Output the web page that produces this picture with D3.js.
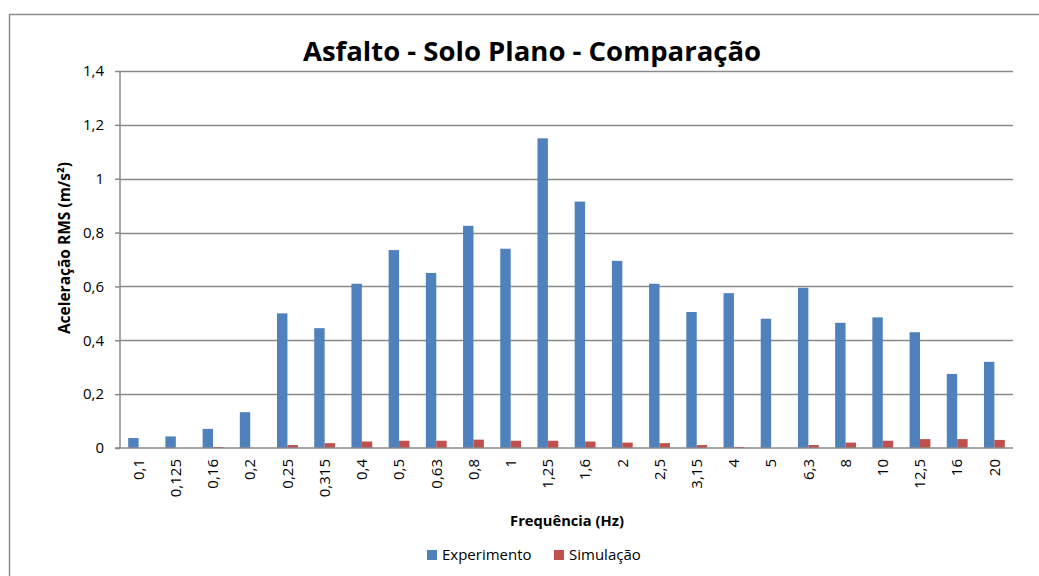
<!DOCTYPE html>
<html>
<head>
<meta charset="utf-8">
<script src="https://cdn.jsdelivr.net/npm/d3@7"></script>
<style>
  body { margin: 0; background: #fff; }
  svg text { font-family: "Open Sans", "Noto Sans", sans-serif; fill: #000; }
</style>
</head>
<body>
<div id="chartContainer"></div>
<script>
// Chart data
const frequencies = ["0,1", "0,125", "0,16", "0,2", "0,25", "0,315", "0,4", "0,5", "0,63", "0,8", "1", "1,25",
    "1,6", "2", "2,5", "3,15", "4", "5", "6,3", "8", "10", "12,5", "16", "20"];
const experimento = [0.037, 0.043, 0.071, 0.133, 0.50, 0.445, 0.61, 0.735, 0.65, 0.825, 0.74, 1.15,
    0.915, 0.695, 0.61, 0.505, 0.575, 0.48, 0.595, 0.465, 0.485, 0.43, 0.275, 0.32];
const simulacao = [0, 0, 0.004, 0, 0.011, 0.018, 0.024, 0.027, 0.027, 0.031, 0.027, 0.027,
    0.024, 0.020, 0.018, 0.011, 0.004, 0, 0.011, 0.020, 0.027, 0.033, 0.033, 0.030];
const seriesNames = ["Experimento", "Simulação"];
const seriesColors = ["#4F81BD", "#C0504D"];
const yTicks = [0, 0.2, 0.4, 0.6, 0.8, 1, 1.2, 1.4];

const data = frequencies.map((f, i) => ({ freq: f, values: [experimento[i], simulacao[i]] }));

// Dimensions
const W = 1039, H = 576;
const margin = { top: 71, right: 26, bottom: 128, left: 120 };
const width = W - margin.left - margin.right;
const height = H - margin.top - margin.bottom;

const svgRoot = d3.select("#chartContainer")
    .append("svg")
    .attr("width", W)
    .attr("height", H);

// Outer chart border
svgRoot.append("rect")
    .attr("x", 9.5)
    .attr("y", 14.5)
    .attr("width", 1060)
    .attr("height", 600)
    .attr("fill", "none")
    .attr("stroke", "#8c8c8c")
    .attr("stroke-width", 1.5);

const svg = svgRoot.append("g")
    .attr("transform", "translate(" + margin.left + "," + margin.top + ")");

// Scales
const xScale = d3.scaleBand()
    .domain(frequencies)
    .range([0, width])
    .paddingInner(0.44)
    .paddingOuter(0.22);

const xInner = d3.scaleBand()
    .domain(seriesNames)
    .range([0, xScale.bandwidth()]);

const yScale = d3.scaleLinear()
    .domain([0, 1.4])
    .range([height, 0]);

// Gridlines
svg.append("g")
    .selectAll("line")
    .data(yTicks.filter(d => d > 0))
    .enter()
    .append("line")
    .attr("x1", 0)
    .attr("x2", width)
    .attr("y1", d => Math.round(yScale(d)) + 0.5)
    .attr("y2", d => Math.round(yScale(d)) + 0.5)
    .attr("stroke", "#8a8a8a")
    .attr("stroke-width", 1.5);

// Y axis
const yAxis = d3.axisLeft(yScale)
    .tickValues(yTicks)
    .tickSize(5)
    .tickPadding(11)
    .tickFormat(d => String(d).replace(".", ","));

const yG = svg.append("g").call(yAxis);
yG.select(".domain").attr("stroke", "#8a8a8a").attr("stroke-width", 1.5).attr("d", "M0," + height + "V0");
yG.selectAll(".tick line").attr("stroke", "#8a8a8a").attr("stroke-width", 1.5);
yG.selectAll("text").style("font-size", "15px").attr("fill", "#000");

// Bars
const groups = svg.selectAll(".group")
    .data(data)
    .enter()
    .append("g")
    .attr("class", "group")
    .attr("transform", d => "translate(" + xScale(d.freq) + ",0)");

groups.selectAll("rect")
    .data(d => d.values.map((v, i) => ({ name: seriesNames[i], value: v, color: seriesColors[i] })))
    .enter()
    .append("rect")
    .attr("x", d => xInner(d.name))
    .attr("y", d => yScale(d.value))
    .attr("width", xInner.bandwidth())
    .attr("height", d => height - yScale(d.value))
    .attr("fill", d => d.color);

// X axis
const xAxis = d3.axisBottom(xScale).tickSize(0).tickPadding(0);
const xG = svg.append("g")
    .attr("transform", "translate(0," + height + ")")
    .call(xAxis);
xG.select(".domain").attr("stroke", "#8a8a8a").attr("stroke-width", 1.5).attr("d", "M-5,0H" + width);
xG.selectAll("text")
    .style("font-size", "15px")
    .style("text-anchor", "end")
    .attr("fill", "#000")
    .attr("dx", "-11px")
    .attr("dy", "0.35em")
    .attr("transform", "rotate(-90)");

// Title
svgRoot.append("text")
    .attr("x", 532)
    .attr("y", 61)
    .attr("text-anchor", "middle")
    .style("font-size", "27.5px")
    .style("font-weight", "bold")
    .text("Asfalto - Solo Plano - Comparação");

// Axis labels
svgRoot.append("text")
    .attr("x", 567)
    .attr("y", 526)
    .attr("text-anchor", "middle")
    .style("font-size", "14.7px")
    .style("font-weight", "bold")
    .text("Frequência (Hz)");

svgRoot.append("text")
    .attr("transform", "translate(70,248) rotate(-90)")
    .attr("text-anchor", "middle")
    .style("font-size", "15.5px")
    .style("font-weight", "bold")
    .text("Aceleração RMS (m/s²)");

// Legend
const legendX = [427, 554];
const legend = svgRoot.selectAll(".legend")
    .data(seriesNames)
    .enter()
    .append("g")
    .attr("class", "legend")
    .attr("transform", (d, i) => "translate(" + legendX[i] + ",550)");

legend.append("rect")
    .attr("width", 10)
    .attr("height", 10)
    .attr("fill", (d, i) => seriesColors[i]);

legend.append("text")
    .attr("x", 15)
    .attr("y", 10)
    .style("font-size", "15px")
    .text(d => d);
</script>
</body>
</html>
